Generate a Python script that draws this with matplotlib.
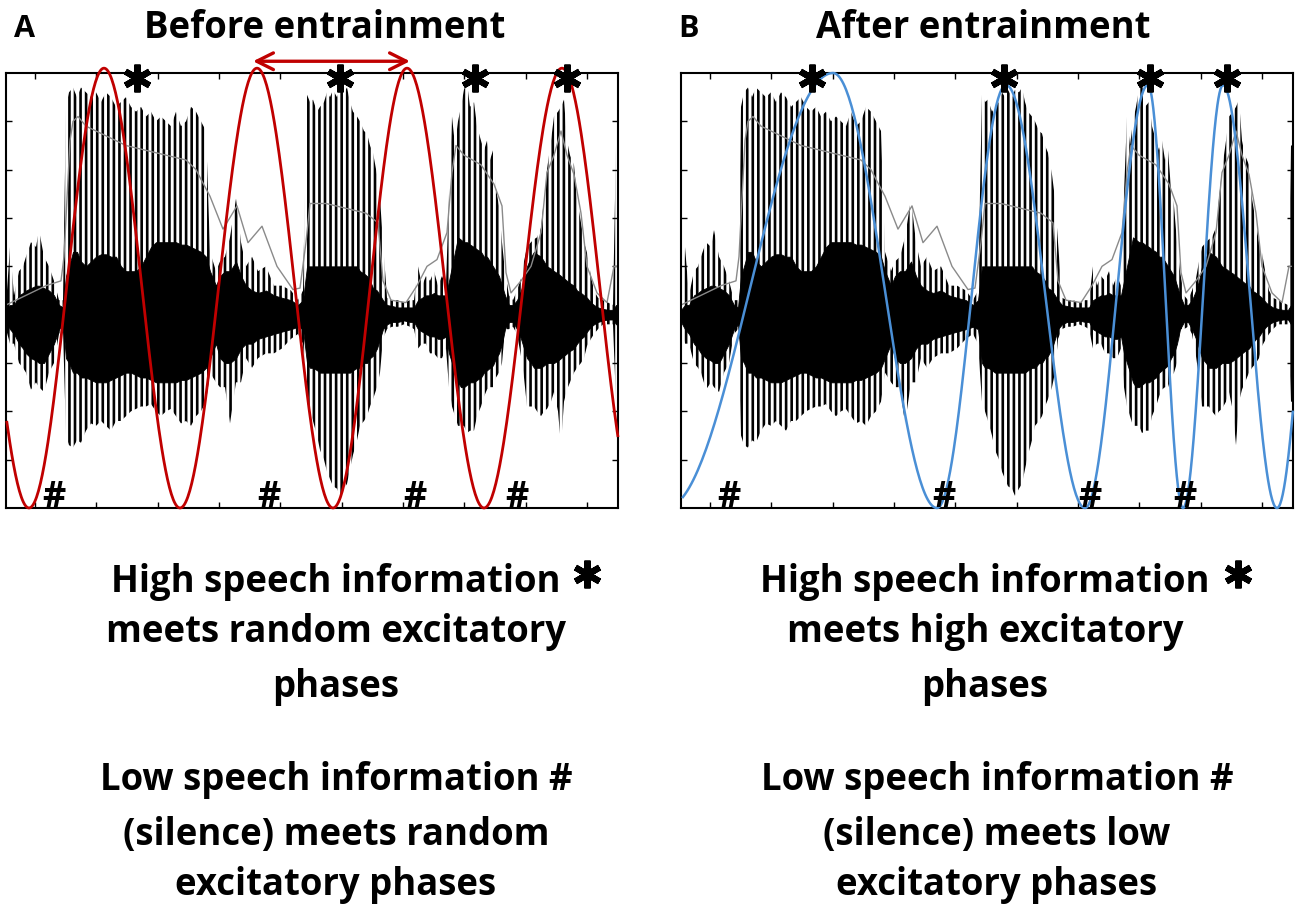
import numpy as np
import matplotlib.pyplot as plt
from matplotlib.lines import Line2D

# speech waveform envelope (frame index, amplitude)
frames = [0, 4, 8, 13, 17, 20, 25, 30, 33, 38, 43, 48, 53, 57,
          60, 63, 67, 71, 75, 80, 85, 90, 95, 100, 105, 110, 115, 120, 125, 130,
          135, 140, 145, 150, 155, 160, 165, 170, 175, 180, 185, 190, 195, 200, 204,
          210, 214, 219, 224, 230, 235, 240, 246, 252, 260, 268, 276, 285, 292, 297,
          301, 304, 307, 311, 314, 318, 321, 324, 327, 331, 334, 338, 341, 344, 347,
          351, 354, 358, 361, 364, 367, 371, 374, 377, 381,
          386, 392, 398, 404, 408, 412, 416, 420, 424, 428, 432, 436, 440,
          443, 446, 449, 452, 455, 458, 461, 464, 468, 471, 475, 478, 481, 484, 487,
          490, 493, 496, 499, 503, 507, 511,
          515, 518, 521, 525, 528, 531, 535, 538, 541, 545, 548, 552, 555, 558, 561,
          564, 568, 571, 575, 578, 581, 585, 588, 592, 597, 602, 607, 610, 612]
spike_top = [0.2, 1.4, 0.4, 0.9, 1.0, 1.2, 1.5, 1.4, 1.75, 1.2, 1.0, 0.7, 0.3, 0.3,
             4.3, 4.6, 4.7, 4.5, 4.7, 4.6, 4.5, 4.6, 4.4, 4.6, 4.5, 4.3, 4.4, 4.5, 4.3, 4.2,
             4.3, 4.1, 4.2, 4.0, 4.1, 4.0, 3.9, 4.2, 3.9, 4.0, 4.3, 4.2, 4.0, 3.8, 1.3,
             0.9, 1.1, 1.2, 1.6, 2.4, 1.5, 1.0, 1.2, 0.9, 1.0, 0.6, 0.6, 0.5, 0.3, 0.5,
             4.55, 4.4, 4.45, 4.2, 4.3, 4.4, 4.6, 4.5, 4.65, 4.5, 4.65, 4.6, 4.7, 4.4, 4.2,
             4.1, 4.0, 3.8, 3.75, 3.5, 3.35, 2.9, 2.4, 1.5, 0.35,
             0.3, 0.3, 0.25, 0.3, 0.3, 1.0, 0.6, 0.8, 0.7, 0.9, 0.6, 0.8, 0.6,
             2.5, 4.1, 3.5, 4.0, 4.3, 4.66, 4.8, 4.3, 4.4, 3.9, 3.6, 3.4, 3.6, 3.2, 3.4,
             2.6, 2.25, 1.5, 0.9, 0.4, 0.3, 0.5,
             0.75, 1.1, 1.4, 1.5, 1.56, 1.6, 1.8, 2.4, 3.0, 3.6, 4.1, 4.2, 4.3, 4.45, 3.6,
             3.3, 3.1, 2.4, 1.9, 1.5, 1.28, 0.8, 0.5, 0.35, 0.3, 0.25, 0.2, 3.5, 3.5]
spike_bot = [-0.3, -0.6, -0.6, -1.0, -1.1, -1.2, -1.55, -1.4, -1.5, -1.6, -1.2, -1.0, -0.4, -0.3,
             -2.5, -2.7, -2.75, -2.6, -2.65, -2.4, -2.25, -2.3, -2.2, -2.3, -2.4, -2.2, -2.2, -2.1, -2.0, -1.95,
             -1.9, -1.9, -1.85, -2.0, -2.1, -2.0, -1.95, -2.1, -2.25, -2.2, -2.3, -2.1, -2.0, -1.8, -1.2,
             -1.4, -1.5, -1.5, -2.25, -1.4, -1.4, -0.9, -1.1, -0.9, -0.8, -0.8, -0.7, -0.5, -0.4, -0.6,
             -1.8, -2.0, -2.2, -2.5, -2.8, -3.0, -3.25, -3.4, -3.55, -3.6, -3.75, -3.6, -3.5, -3.2, -2.9,
             -2.6, -2.3, -2.2, -2.1, -1.9, -1.75, -1.5, -1.2, -0.5, -0.3,
             -0.25, -0.25, -0.2, -0.25, -0.3, -0.7, -0.6, -0.6, -0.8, -0.8, -0.9, -0.9, -0.7,
             -1.5, -1.9, -2.1, -2.3, -2.3, -2.3, -2.45, -2.4, -2.4, -2.1, -1.9, -1.7, -1.55, -1.5, -1.5,
             -1.3, -1.2, -1.0, -0.3, -0.3, -0.25, -0.4,
             -0.86, -1.3, -1.9, -1.9, -1.9, -2.0, -2.1, -2.0, -1.95, -1.8, -1.6, -2.0, -2.7, -1.8, -1.55,
             -1.4, -1.2, -1.1, -1.0, -0.9, -0.65, -0.5, -0.4, -0.3, -0.2, -0.2, -0.2, -1.8, -1.8]
core_top = [0.1, 0.2, 0.2, 0.4, 0.45, 0.5, 0.55, 0.6, 0.6, 0.55, 0.5, 0.4, 0.2, 0.15,
            0.8, 1.0, 1.3, 1.3, 1.1, 1.0, 1.1, 1.2, 1.25, 1.25, 1.2, 1.2, 1.0, 0.9, 0.9, 0.9,
            1.0, 1.2, 1.4, 1.5, 1.5, 1.5, 1.5, 1.5, 1.45, 1.45, 1.4, 1.35, 1.3, 1.2, 0.9,
            0.6, 0.8, 0.9, 0.9, 1.1, 0.8, 0.6, 0.5, 0.45, 0.5, 0.4, 0.35, 0.3, 0.2, 0.3,
            1.0, 1.0, 1.0, 1.0, 1.0, 1.0, 1.0, 1.0, 1.0, 1.0, 1.0, 1.0, 1.0, 1.0, 1.0,
            1.0, 0.9, 0.85, 0.8, 0.7, 0.55, 0.5, 0.4, 0.3, 0.2,
            0.18, 0.15, 0.15, 0.15, 0.15, 0.3, 0.35, 0.4, 0.4, 0.45, 0.4, 0.4, 0.4,
            0.7, 1.0, 1.3, 1.6, 1.55, 1.5, 1.5, 1.45, 1.4, 1.35, 1.3, 1.2, 1.2, 1.1, 1.0,
            0.9, 0.8, 0.6, 0.4, 0.2, 0.2, 0.3,
            0.5, 0.7, 1.0, 1.2, 1.3, 1.25, 1.2, 1.1, 1.0, 0.95, 0.9, 0.85, 0.8, 0.75, 0.7,
            0.65, 0.6, 0.5, 0.45, 0.4, 0.35, 0.25, 0.2, 0.15, 0.12, 0.1, 0.1, 0.2, 0.2]
core_bot = [-0.15, -0.3, -0.4, -0.6, -0.7, -0.8, -0.9, -0.95, -1.0, -1.0, -0.8, -0.6, -0.3, -0.2,
            -0.9, -1.0, -1.2, -1.2, -1.3, -1.3, -1.35, -1.4, -1.4, -1.4, -1.35, -1.3, -1.25, -1.2, -1.2, -1.25,
            -1.3, -1.3, -1.35, -1.4, -1.4, -1.4, -1.4, -1.4, -1.35, -1.35, -1.3, -1.25, -1.2, -1.1, -0.9,
            -0.6, -0.9, -1.0, -1.0, -0.9, -0.7, -0.6, -0.6, -0.5, -0.45, -0.4, -0.35, -0.3, -0.25, -0.3,
            -1.0, -1.1, -1.1, -1.15, -1.2, -1.2, -1.2, -1.2, -1.2, -1.2, -1.2, -1.2, -1.2, -1.2, -1.15,
            -1.1, -1.1, -1.0, -1.0, -0.9, -0.85, -0.7, -0.5, -0.3, -0.2,
            -0.15, -0.15, -0.12, -0.15, -0.15, -0.3, -0.35, -0.4, -0.45, -0.45, -0.5, -0.5, -0.45,
            -0.8, -1.0, -1.2, -1.4, -1.5, -1.5, -1.45, -1.4, -1.4, -1.35, -1.3, -1.2, -1.15, -1.1, -1.05,
            -0.9, -0.8, -0.6, -0.3, -0.15, -0.15, -0.3,
            -0.5, -0.7, -0.9, -1.0, -1.1, -1.1, -1.1, -1.05, -1.0, -1.0, -1.0, -0.95, -0.9, -0.85, -0.8,
            -0.75, -0.7, -0.6, -0.5, -0.45, -0.35, -0.25, -0.2, -0.15, -0.12, -0.1, -0.1, -0.2, -0.2]

# smoothed amplitude envelope (thin grey trace)
env_frames = [0, 20, 40, 55, 58, 61, 64, 67, 72, 80, 90, 100, 120, 140, 160, 180, 190, 195,
              204, 217, 231, 242, 256, 271, 287, 294, 300, 304, 320, 340, 360, 372, 377, 385,
              400, 411, 421, 431, 441, 446, 450, 458, 475, 488, 496, 500, 505, 515, 525, 535,
              541, 548, 555, 561, 568, 575, 581, 591, 601, 608, 612]
env_amp = [0.2, 0.4, 0.6, 0.7, 1.2, 2.4, 3.6, 4.0, 4.1, 3.9, 3.8, 3.7, 3.5, 3.4, 3.3, 3.2, 3.0, 2.8,
           2.45, 1.77, 2.25, 1.49, 1.83, 1.0, 0.52, 0.55, 1.5, 2.3, 2.3, 2.2, 2.1, 1.9, 0.7, 0.3,
           0.25, 0.6, 1.0, 1.14, 1.7, 2.94, 3.5, 3.3, 3.1, 2.7, 2.25, 0.87, 0.45, 0.7, 1.0, 1.7,
           2.94, 3.3, 3.8, 3.3, 2.9, 2.1, 1.0, 0.45, 0.25, 1.0, 1.0]

# extrema of the neural oscillation (frame, amplitude)
red_ext_x = [-53, 23, 98, 174, 251, 327, 401, 478, 556, 632]
red_ext_y = [5.1, -4.0, 5.1, -4.0, 5.1, -4.0, 5.1, -4.0, 5.1, -4.0]
blue_ext_x = [-15, 152, 256, 325, 404, 467, 502, 542, 596, 646]
blue_ext_y = [-4.0, 5.0, -4.0, 4.75, -4.0, 4.75, -4.0, 4.75, -4.0, 4.75]

# markers for high (*) and low (#) speech information
star_x_a = [131, 334, 469, 561]
hash_x_a = [48, 263, 409, 511]
star_x_b = [131, 323, 469, 546]
hash_x_b = [48, 263, 409, 504]

text_a = ['meets random excitatory', 'phases',
          'Low speech information #', '(silence) meets random', 'excitatory phases']
text_b = ['meets high excitatory', 'phases',
          'Low speech information #', '(silence) meets low', 'excitatory phases']

plt.rcParams['font.family'] = ['Open Sans', 'DejaVu Sans']
plt.rcParams['hatch.linewidth'] = 1.9

W, H = 1300, 914


def fx(px):
    return px / W


def fy(py):
    return 1 - py / H


def osc_curve(xe, ye, lo, hi, n=80):
    xs, ys = [], []
    for x0, x1, y0, y1 in zip(xe[:-1], xe[1:], ye[:-1], ye[1:]):
        s = np.linspace(0, 1, n)
        xs.append(x0 + (x1 - x0) * s)
        ys.append(y0 + (y1 - y0) * (1 - np.cos(np.pi * s)) / 2)
    xs = np.concatenate(xs)
    ys = np.concatenate(ys)
    keep = (xs >= lo) & (xs <= hi)
    return xs[keep], ys[keep]


def draw_panel(ax, ext_x, ext_y, color, lw, star_x, hash_x):
    ax.fill_between(frames, spike_bot, spike_top, facecolor='none',
                    edgecolor='black', hatch='|||', linewidth=0)
    ax.fill_between(frames, core_bot, core_top, color='black', linewidth=0.6)
    ax.plot(env_frames, env_amp, color='#8a8a8a', lw=1.0)
    cx, cy = osc_curve(ext_x, ext_y, 0, 612)
    ax.plot(cx, cy, color=color, lw=lw, clip_on=False, zorder=5)
    ax.plot(star_x, [4.9] * len(star_x), linestyle='none', marker=(6, 2, 0),
            markersize=20, markeredgewidth=4.5, color='black', clip_on=False, zorder=6)
    for hx in hash_x:
        ax.text(hx, -3.97, '#', ha='center', va='baseline', fontsize=26,
                fontweight='bold', zorder=6)
    ax.set_xlim(0, 612)
    ax.set_ylim(-4, 5)
    ax.set_xticks(np.linspace(29, 581, 10))
    ax.set_yticks(np.arange(-3, 5))
    ax.set_xticklabels([])
    ax.set_yticklabels([])
    ax.tick_params(direction='in', length=4, width=1.0, top=True, right=True)
    for sp in ax.spines.values():
        sp.set_linewidth(1.5)


fig = plt.figure(figsize=(13, 9.14), dpi=100)

ax_a = fig.add_axes([fx(6), fy(508), 612 / W, 435 / H])
draw_panel(ax_a, red_ext_x, red_ext_y, '#c00000', 2.0, star_x_a, hash_x_a)
ax_a.annotate('', xy=(247, 1.027), xytext=(404, 1.027),
              xycoords=('data', 'axes fraction'), textcoords=('data', 'axes fraction'),
              arrowprops=dict(arrowstyle='<->', color='#c00000', lw=2.4,
                              mutation_scale=30, shrinkA=0, shrinkB=0))

ax_b = fig.add_axes([fx(681), fy(508), 612 / W, 435 / H])
draw_panel(ax_b, blue_ext_x, blue_ext_y, '#4a8fd6', 1.8, star_x_b, hash_x_b)

# titles and panel letters
fig.text(fx(24), fy(29), 'A', ha='center', va='center', fontsize=22, fontweight='bold')
fig.text(fx(688), fy(29), 'B', ha='center', va='center', fontsize=22, fontweight='bold')
fig.text(fx(325), fy(28), 'Before entrainment', ha='center', va='center',
         fontsize=26.3, fontweight='bold')
fig.text(fx(983), fy(28), 'After entrainment', ha='center', va='center',
         fontsize=26.3, fontweight='bold')

# explanatory text below each panel
baselines = [642, 697, 790, 845, 895]
for cx_top, cx_low, lines in [(336, 336, text_a), (985, 997, text_b)]:
    fig.text(fx(cx_top), fy(592), 'High speech information', ha='center',
             va='baseline', fontsize=26.3, fontweight='bold')
    for i, (line, by) in enumerate(zip(lines, baselines)):
        cx = cx_top if i < 2 else cx_low
        fig.text(fx(cx), fy(by), line, ha='center', va='baseline',
                 fontsize=26.3, fontweight='bold')

for sx in [587, 1238]:
    fig.add_artist(Line2D([fx(sx)], [fy(574)], transform=fig.transFigure,
                          marker=(6, 2, 0), markersize=20, markeredgewidth=4.5,
                          color='black', linestyle='none'))

fig.savefig('out.png', dpi=100)
